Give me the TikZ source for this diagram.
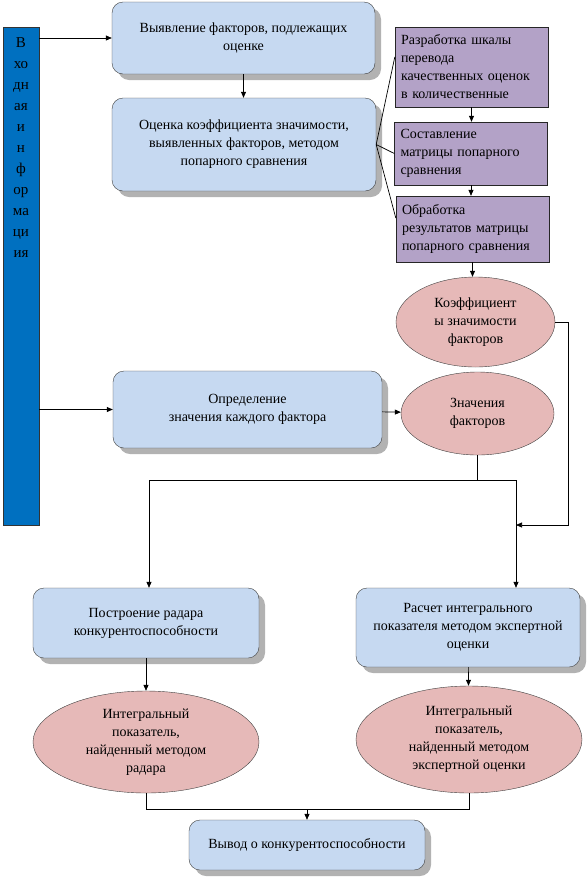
\documentclass[tikz,border=0pt]{standalone}
\usepackage{fontspec}
\setmainfont{Liberation Serif}
\usetikzlibrary{arrows.meta, shapes.geometric, positioning, shadows}

\definecolor{boxblue}{HTML}{C6D9F1}
\definecolor{barblue}{HTML}{0070C0}
\definecolor{boxviolet}{HTML}{B3A2C7}
\definecolor{ovalpink}{HTML}{E6B9B8}

\begin{document}
\begin{tikzpicture}[
  x=1pt, y=-1pt,
  font=\fontsize{14}{18}\selectfont,
  box/.style={draw=black!75, fill=boxblue, rounded corners=11pt, align=center,
              inner sep=3pt,
              drop shadow={shadow xshift=6pt, shadow yshift=-6pt,
                           fill=black!30, opacity=1}},
  subbox/.style={draw=black!85, fill=boxviolet, align=left,
                 inner xsep=6pt, inner ysep=3pt, text width=141pt},
  oval/.style={ellipse, draw=black!75, fill=ovalpink, align=center, inner sep=0pt},
  arr/.style={-{Triangle[length=6pt, width=5pt]}, line width=0.7pt},
  lin/.style={line width=0.7pt}
]
  \useasboundingbox (0,0) rectangle (588,879);

  % Input
  \node[draw=black!80, fill=barblue, minimum width=36pt, minimum height=498pt,
        inner sep=0pt] (inp) at (21,276) {};
  \node[font=\fontsize{15}{21}\selectfont, align=center, inner sep=0pt,
        below=11pt of inp.north] (inplbl)
       {В\\хо\\дн\\ая\\и\\н\\ф\\ор\\ма\\ци\\ия};

  % Weights
  \node[box, minimum width=263pt, minimum height=72pt] (find) at (243.5,38)
       {Выявление факторов, подлежащих\\оценке};
  \node[box, minimum width=264pt, minimum height=93pt] (weight) at (244,144.5)
       {Оценка коэффициента значимости,\\выявленных факторов, методом\\попарного сравнения};
  \node[subbox, minimum height=80pt] (scale) at (471.5,67)
       {Разработка шкалы\\перевода\\качественных оценок\\в количественные};
  \node[subbox, minimum height=63pt] (matr) at (471,153.5)
       {Составление\\матрицы попарного\\сравнения};
  \node[subbox, minimum height=66pt] (proc) at (472.5,229)
       {Обработка\\результатов матрицы\\попарного сравнения};
  \node[oval, minimum width=159pt, minimum height=90pt] (coef) at (475.5,322)
       {Коэффициент\\ы значимости\\факторов};

  \draw[arr] (inp.east |- find.west) -- (find.west);
  \draw[arr] (find.south) -- (find.south |- weight.north);
  \draw[lin] (weight.east) -- ([yshift=10pt]scale.west);
  \draw[lin] (weight.east) -- (matr.west);
  \draw[lin] (weight.east) -- ([yshift=11pt]proc.west);
  \draw[arr] (scale.south) -- (scale.south |- matr.north);
  \draw[arr] (matr.south) -- (matr.south |- proc.north);
  \draw[arr] (proc.south) -- (proc.south |- coef.north);

  % Values
  \node[box, minimum width=269pt, minimum height=77pt] (determ) at (247.5,409.5)
       {Определение\\значения каждого фактора};
  \node[oval, minimum width=153pt, minimum height=83pt] (vals) at (477.5,413.5)
       {Значения\\факторов};

  \draw[arr] (inp.east |- determ.west) -- (determ.west);
  \draw[arr] (determ) -- (vals);

  % Integral indices
  \node[box, minimum width=226pt, minimum height=70pt] (radar) at (146,623)
       {Построение радара\\конкурентоспособности};
  \node[box, minimum width=224pt, minimum height=79pt] (calc) at (468,627.5)
       {Расчет интегрального\\показателя методом экспертной\\оценки};
  \node[oval, minimum width=226pt, minimum height=102pt] (irad) at (146,742)
       {Интегральный\\показатель,\\найденный методом\\радара};
  \node[oval, minimum width=226pt, minimum height=107pt] (iexp) at (469,739.5)
       {Интегральный\\показатель,\\найденный методом\\экспертной оценки};
  \node[box, minimum width=236pt, minimum height=50pt] (concl) at (307,845)
       {Вывод о конкурентоспособности};

  \coordinate (jl) at (149,480);
  \coordinate (jr) at (516,480);
  \coordinate (mr) at (516,525);
  \coordinate (jb) at (307,809);

  \draw[lin] (vals.south) -- (vals.south |- jl);
  \draw[lin] (jl) -- (jr);
  \draw[arr] (jl) -- (jl |- radar.north);
  \draw[arr] (jr) -- (jr |- calc.north);
  \draw[arr] (coef.east) -- ++(13,0) |- (mr);
  \draw[arr] (radar) -- (irad);
  \draw[arr] (calc) -- (iexp);
  \draw[lin] (irad.south) |- (jb) -| (iexp.south);
  \draw[arr] (jb) -- (concl);
\end{tikzpicture}
\end{document}
